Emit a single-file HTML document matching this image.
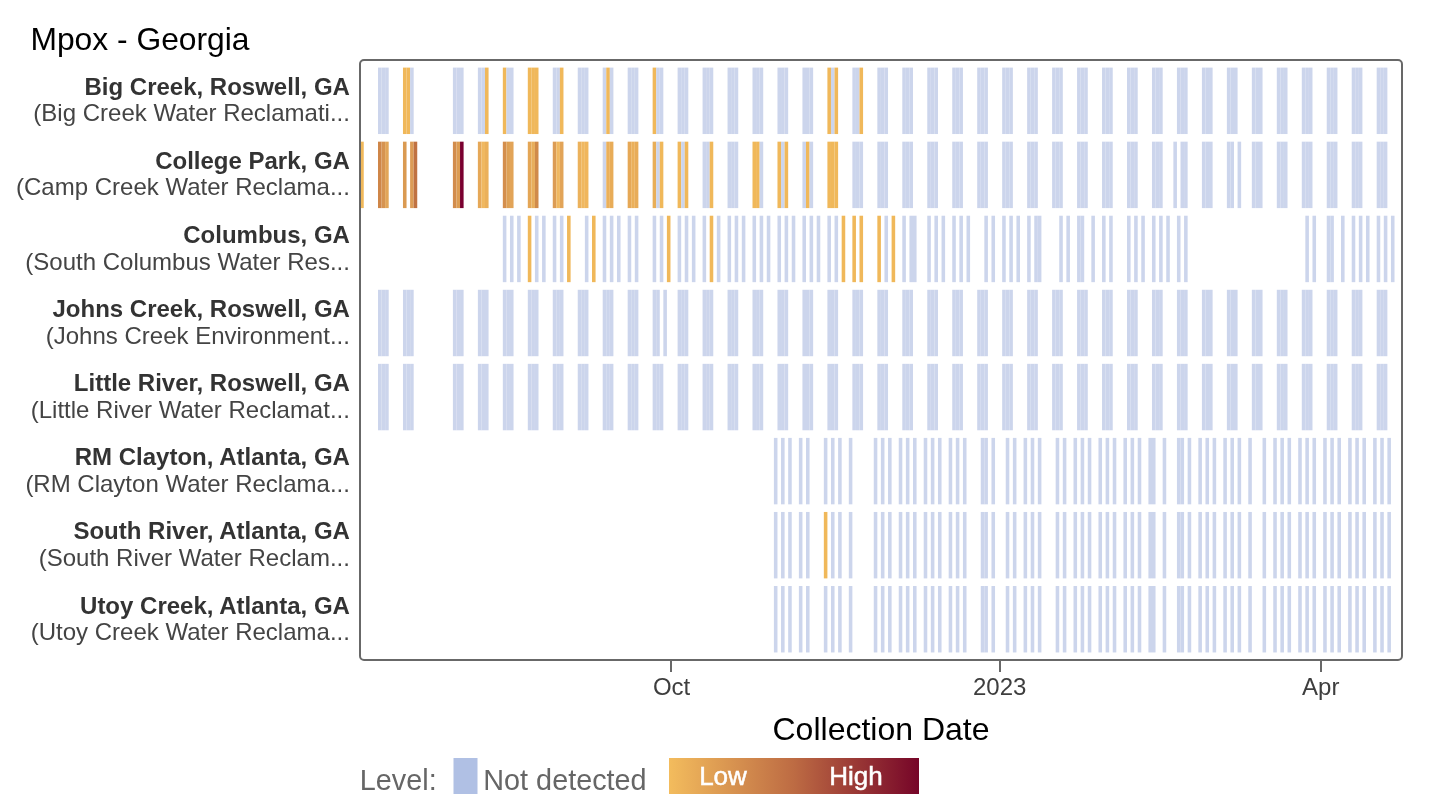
<!DOCTYPE html>
<html><head><meta charset="utf-8"><style>
html,body{margin:0;padding:0;background:#fff;}
svg{display:block;will-change:transform;font-family:"Liberation Sans",sans-serif;}
</style></head><body>
<svg width="1442" height="808" viewBox="0 0 1442 808">
<defs><clipPath id="cp"><rect x="361" y="61" width="1040" height="598"/></clipPath>
<linearGradient id="lg" x1="0" x2="1" y1="0" y2="0"><stop offset="0" stop-color="#f3bc5d"/><stop offset="0.5" stop-color="#bd6b43"/><stop offset="1" stop-color="#760528"/></linearGradient></defs>
<text x="30.4" y="49.5" font-size="31.8" fill="#000">Mpox - Georgia</text>
<g clip-path="url(#cp)">
<rect x="378.00" y="67.60" width="3.57" height="66.44" fill="#ccd5ec"/>
<rect x="381.57" y="67.60" width="3.57" height="66.44" fill="#ccd5ec"/>
<rect x="385.13" y="67.60" width="3.57" height="66.44" fill="#ccd5ec"/>
<rect x="402.97" y="67.60" width="3.57" height="66.44" fill="#f0b85a"/>
<rect x="406.53" y="67.60" width="3.57" height="66.44" fill="#f0b85a"/>
<rect x="410.10" y="67.60" width="3.57" height="66.44" fill="#ccd5ec"/>
<rect x="452.90" y="67.60" width="3.57" height="66.44" fill="#ccd5ec"/>
<rect x="456.47" y="67.60" width="3.57" height="66.44" fill="#ccd5ec"/>
<rect x="460.03" y="67.60" width="3.57" height="66.44" fill="#ccd5ec"/>
<rect x="477.87" y="67.60" width="3.57" height="66.44" fill="#ccd5ec"/>
<rect x="481.43" y="67.60" width="3.57" height="66.44" fill="#ccd5ec"/>
<rect x="485.00" y="67.60" width="3.57" height="66.44" fill="#f0b85a"/>
<rect x="502.83" y="67.60" width="3.57" height="66.44" fill="#f0b85a"/>
<rect x="506.40" y="67.60" width="3.57" height="66.44" fill="#ccd5ec"/>
<rect x="509.97" y="67.60" width="3.57" height="66.44" fill="#ccd5ec"/>
<rect x="527.80" y="67.60" width="3.57" height="66.44" fill="#f0b85a"/>
<rect x="531.37" y="67.60" width="3.57" height="66.44" fill="#f0b85a"/>
<rect x="534.93" y="67.60" width="3.57" height="66.44" fill="#f0b85a"/>
<rect x="552.77" y="67.60" width="3.57" height="66.44" fill="#ccd5ec"/>
<rect x="556.34" y="67.60" width="3.57" height="66.44" fill="#ccd5ec"/>
<rect x="559.90" y="67.60" width="3.57" height="66.44" fill="#f0b85a"/>
<rect x="577.74" y="67.60" width="3.57" height="66.44" fill="#ccd5ec"/>
<rect x="581.30" y="67.60" width="3.57" height="66.44" fill="#ccd5ec"/>
<rect x="584.87" y="67.60" width="3.57" height="66.44" fill="#ccd5ec"/>
<rect x="602.70" y="67.60" width="3.57" height="66.44" fill="#ccd5ec"/>
<rect x="606.27" y="67.60" width="3.57" height="66.44" fill="#f0b85a"/>
<rect x="609.84" y="67.60" width="3.57" height="66.44" fill="#ccd5ec"/>
<rect x="627.67" y="67.60" width="3.57" height="66.44" fill="#ccd5ec"/>
<rect x="631.24" y="67.60" width="3.57" height="66.44" fill="#ccd5ec"/>
<rect x="634.80" y="67.60" width="3.57" height="66.44" fill="#ccd5ec"/>
<rect x="652.64" y="67.60" width="3.57" height="66.44" fill="#f0b85a"/>
<rect x="656.20" y="67.60" width="3.57" height="66.44" fill="#ccd5ec"/>
<rect x="659.77" y="67.60" width="3.57" height="66.44" fill="#ccd5ec"/>
<rect x="677.60" y="67.60" width="3.57" height="66.44" fill="#ccd5ec"/>
<rect x="681.17" y="67.60" width="3.57" height="66.44" fill="#ccd5ec"/>
<rect x="684.74" y="67.60" width="3.57" height="66.44" fill="#ccd5ec"/>
<rect x="702.57" y="67.60" width="3.57" height="66.44" fill="#ccd5ec"/>
<rect x="706.14" y="67.60" width="3.57" height="66.44" fill="#ccd5ec"/>
<rect x="709.70" y="67.60" width="3.57" height="66.44" fill="#ccd5ec"/>
<rect x="727.54" y="67.60" width="3.57" height="66.44" fill="#ccd5ec"/>
<rect x="731.10" y="67.60" width="3.57" height="66.44" fill="#ccd5ec"/>
<rect x="734.67" y="67.60" width="3.57" height="66.44" fill="#ccd5ec"/>
<rect x="752.50" y="67.60" width="3.57" height="66.44" fill="#ccd5ec"/>
<rect x="756.07" y="67.60" width="3.57" height="66.44" fill="#ccd5ec"/>
<rect x="759.64" y="67.60" width="3.57" height="66.44" fill="#ccd5ec"/>
<rect x="777.47" y="67.60" width="3.57" height="66.44" fill="#ccd5ec"/>
<rect x="781.04" y="67.60" width="3.57" height="66.44" fill="#ccd5ec"/>
<rect x="784.60" y="67.60" width="3.57" height="66.44" fill="#ccd5ec"/>
<rect x="802.44" y="67.60" width="3.57" height="66.44" fill="#ccd5ec"/>
<rect x="806.00" y="67.60" width="3.57" height="66.44" fill="#ccd5ec"/>
<rect x="809.57" y="67.60" width="3.57" height="66.44" fill="#ccd5ec"/>
<rect x="827.40" y="67.60" width="3.57" height="66.44" fill="#f0b85a"/>
<rect x="830.97" y="67.60" width="3.57" height="66.44" fill="#ccd5ec"/>
<rect x="834.54" y="67.60" width="3.57" height="66.44" fill="#f0b85a"/>
<rect x="852.37" y="67.60" width="3.57" height="66.44" fill="#ccd5ec"/>
<rect x="855.94" y="67.60" width="3.57" height="66.44" fill="#ccd5ec"/>
<rect x="859.50" y="67.60" width="3.57" height="66.44" fill="#f0b85a"/>
<rect x="877.34" y="67.60" width="3.57" height="66.44" fill="#ccd5ec"/>
<rect x="880.90" y="67.60" width="3.57" height="66.44" fill="#ccd5ec"/>
<rect x="884.47" y="67.60" width="3.57" height="66.44" fill="#ccd5ec"/>
<rect x="902.30" y="67.60" width="3.57" height="66.44" fill="#ccd5ec"/>
<rect x="905.87" y="67.60" width="3.57" height="66.44" fill="#ccd5ec"/>
<rect x="909.44" y="67.60" width="3.57" height="66.44" fill="#ccd5ec"/>
<rect x="927.27" y="67.60" width="3.57" height="66.44" fill="#ccd5ec"/>
<rect x="930.84" y="67.60" width="3.57" height="66.44" fill="#ccd5ec"/>
<rect x="934.41" y="67.60" width="3.57" height="66.44" fill="#ccd5ec"/>
<rect x="952.24" y="67.60" width="3.57" height="66.44" fill="#ccd5ec"/>
<rect x="955.81" y="67.60" width="3.57" height="66.44" fill="#ccd5ec"/>
<rect x="959.37" y="67.60" width="3.57" height="66.44" fill="#ccd5ec"/>
<rect x="977.21" y="67.60" width="3.57" height="66.44" fill="#ccd5ec"/>
<rect x="980.77" y="67.60" width="3.57" height="66.44" fill="#ccd5ec"/>
<rect x="984.34" y="67.60" width="3.57" height="66.44" fill="#ccd5ec"/>
<rect x="1002.17" y="67.60" width="3.57" height="66.44" fill="#ccd5ec"/>
<rect x="1005.74" y="67.60" width="3.57" height="66.44" fill="#ccd5ec"/>
<rect x="1009.31" y="67.60" width="3.57" height="66.44" fill="#ccd5ec"/>
<rect x="1027.14" y="67.60" width="3.57" height="66.44" fill="#ccd5ec"/>
<rect x="1030.71" y="67.60" width="3.57" height="66.44" fill="#ccd5ec"/>
<rect x="1034.27" y="67.60" width="3.57" height="66.44" fill="#ccd5ec"/>
<rect x="1052.11" y="67.60" width="3.57" height="66.44" fill="#ccd5ec"/>
<rect x="1055.67" y="67.60" width="3.57" height="66.44" fill="#ccd5ec"/>
<rect x="1059.24" y="67.60" width="3.57" height="66.44" fill="#ccd5ec"/>
<rect x="1077.07" y="67.60" width="3.57" height="66.44" fill="#ccd5ec"/>
<rect x="1080.64" y="67.60" width="3.57" height="66.44" fill="#ccd5ec"/>
<rect x="1084.21" y="67.60" width="3.57" height="66.44" fill="#ccd5ec"/>
<rect x="1102.04" y="67.60" width="3.57" height="66.44" fill="#ccd5ec"/>
<rect x="1105.61" y="67.60" width="3.57" height="66.44" fill="#ccd5ec"/>
<rect x="1109.17" y="67.60" width="3.57" height="66.44" fill="#ccd5ec"/>
<rect x="1127.01" y="67.60" width="3.57" height="66.44" fill="#ccd5ec"/>
<rect x="1130.57" y="67.60" width="3.57" height="66.44" fill="#ccd5ec"/>
<rect x="1134.14" y="67.60" width="3.57" height="66.44" fill="#ccd5ec"/>
<rect x="1151.97" y="67.60" width="3.57" height="66.44" fill="#ccd5ec"/>
<rect x="1155.54" y="67.60" width="3.57" height="66.44" fill="#ccd5ec"/>
<rect x="1159.11" y="67.60" width="3.57" height="66.44" fill="#ccd5ec"/>
<rect x="1176.94" y="67.60" width="3.57" height="66.44" fill="#ccd5ec"/>
<rect x="1180.51" y="67.60" width="3.57" height="66.44" fill="#ccd5ec"/>
<rect x="1184.07" y="67.60" width="3.57" height="66.44" fill="#ccd5ec"/>
<rect x="1201.91" y="67.60" width="3.57" height="66.44" fill="#ccd5ec"/>
<rect x="1205.47" y="67.60" width="3.57" height="66.44" fill="#ccd5ec"/>
<rect x="1209.04" y="67.60" width="3.57" height="66.44" fill="#ccd5ec"/>
<rect x="1226.87" y="67.60" width="3.57" height="66.44" fill="#ccd5ec"/>
<rect x="1230.44" y="67.60" width="3.57" height="66.44" fill="#ccd5ec"/>
<rect x="1234.01" y="67.60" width="3.57" height="66.44" fill="#ccd5ec"/>
<rect x="1251.84" y="67.60" width="3.57" height="66.44" fill="#ccd5ec"/>
<rect x="1255.41" y="67.60" width="3.57" height="66.44" fill="#ccd5ec"/>
<rect x="1258.97" y="67.60" width="3.57" height="66.44" fill="#ccd5ec"/>
<rect x="1276.81" y="67.60" width="3.57" height="66.44" fill="#ccd5ec"/>
<rect x="1280.38" y="67.60" width="3.57" height="66.44" fill="#ccd5ec"/>
<rect x="1283.94" y="67.60" width="3.57" height="66.44" fill="#ccd5ec"/>
<rect x="1301.78" y="67.60" width="3.57" height="66.44" fill="#ccd5ec"/>
<rect x="1305.34" y="67.60" width="3.57" height="66.44" fill="#ccd5ec"/>
<rect x="1308.91" y="67.60" width="3.57" height="66.44" fill="#ccd5ec"/>
<rect x="1326.74" y="67.60" width="3.57" height="66.44" fill="#ccd5ec"/>
<rect x="1330.31" y="67.60" width="3.57" height="66.44" fill="#ccd5ec"/>
<rect x="1333.88" y="67.60" width="3.57" height="66.44" fill="#ccd5ec"/>
<rect x="1351.71" y="67.60" width="3.57" height="66.44" fill="#ccd5ec"/>
<rect x="1355.28" y="67.60" width="3.57" height="66.44" fill="#ccd5ec"/>
<rect x="1358.84" y="67.60" width="3.57" height="66.44" fill="#ccd5ec"/>
<rect x="1376.68" y="67.60" width="3.57" height="66.44" fill="#ccd5ec"/>
<rect x="1380.24" y="67.60" width="3.57" height="66.44" fill="#ccd5ec"/>
<rect x="1383.81" y="67.60" width="3.57" height="66.44" fill="#ccd5ec"/>
<rect x="360.17" y="141.66" width="3.57" height="66.44" fill="#f0b85a"/>
<rect x="378.00" y="141.66" width="3.57" height="66.44" fill="#cf8648"/>
<rect x="381.57" y="141.66" width="3.57" height="66.44" fill="#d69350"/>
<rect x="385.13" y="141.66" width="3.57" height="66.44" fill="#e2a558"/>
<rect x="402.97" y="141.66" width="3.57" height="66.44" fill="#da9a52"/>
<rect x="410.10" y="141.66" width="3.57" height="66.44" fill="#dc9c56"/>
<rect x="413.67" y="141.66" width="3.57" height="66.44" fill="#c07242"/>
<rect x="452.90" y="141.66" width="3.57" height="66.44" fill="#d28c4c"/>
<rect x="456.47" y="141.66" width="3.57" height="66.44" fill="#dc9c52"/>
<rect x="460.03" y="141.66" width="3.57" height="66.44" fill="#7a0030"/>
<rect x="477.87" y="141.66" width="3.57" height="66.44" fill="#e6a858"/>
<rect x="481.43" y="141.66" width="3.57" height="66.44" fill="#f0b860"/>
<rect x="485.00" y="141.66" width="3.57" height="66.44" fill="#ebb05a"/>
<rect x="502.83" y="141.66" width="3.57" height="66.44" fill="#d48e4c"/>
<rect x="506.40" y="141.66" width="3.57" height="66.44" fill="#dea054"/>
<rect x="509.97" y="141.66" width="3.57" height="66.44" fill="#e2a458"/>
<rect x="527.80" y="141.66" width="3.57" height="66.44" fill="#e4a656"/>
<rect x="531.37" y="141.66" width="3.57" height="66.44" fill="#e8ae5c"/>
<rect x="534.93" y="141.66" width="3.57" height="66.44" fill="#d08a4a"/>
<rect x="552.77" y="141.66" width="3.57" height="66.44" fill="#dc9c54"/>
<rect x="556.34" y="141.66" width="3.57" height="66.44" fill="#f0b860"/>
<rect x="559.90" y="141.66" width="3.57" height="66.44" fill="#e2a458"/>
<rect x="577.74" y="141.66" width="3.57" height="66.44" fill="#ecb25c"/>
<rect x="581.30" y="141.66" width="3.57" height="66.44" fill="#f0b860"/>
<rect x="584.87" y="141.66" width="3.57" height="66.44" fill="#f0b65c"/>
<rect x="602.70" y="141.66" width="3.57" height="66.44" fill="#ccd5ec"/>
<rect x="606.27" y="141.66" width="3.57" height="66.44" fill="#ebb05a"/>
<rect x="609.84" y="141.66" width="3.57" height="66.44" fill="#e8ac58"/>
<rect x="627.67" y="141.66" width="3.57" height="66.44" fill="#e6a856"/>
<rect x="631.24" y="141.66" width="3.57" height="66.44" fill="#ebb05a"/>
<rect x="634.80" y="141.66" width="3.57" height="66.44" fill="#e8ac58"/>
<rect x="652.64" y="141.66" width="3.57" height="66.44" fill="#e8ae58"/>
<rect x="656.20" y="141.66" width="3.57" height="66.44" fill="#ccd5ec"/>
<rect x="659.77" y="141.66" width="3.57" height="66.44" fill="#f0b85a"/>
<rect x="677.60" y="141.66" width="3.57" height="66.44" fill="#f0b85a"/>
<rect x="681.17" y="141.66" width="3.57" height="66.44" fill="#ccd5ec"/>
<rect x="684.74" y="141.66" width="3.57" height="66.44" fill="#f0b85a"/>
<rect x="702.57" y="141.66" width="3.57" height="66.44" fill="#ccd5ec"/>
<rect x="706.14" y="141.66" width="3.57" height="66.44" fill="#ccd5ec"/>
<rect x="709.70" y="141.66" width="3.57" height="66.44" fill="#f0b85a"/>
<rect x="727.54" y="141.66" width="3.57" height="66.44" fill="#ccd5ec"/>
<rect x="731.10" y="141.66" width="3.57" height="66.44" fill="#ccd5ec"/>
<rect x="734.67" y="141.66" width="3.57" height="66.44" fill="#ccd5ec"/>
<rect x="752.50" y="141.66" width="3.57" height="66.44" fill="#f0b85a"/>
<rect x="756.07" y="141.66" width="3.57" height="66.44" fill="#f0b85a"/>
<rect x="759.64" y="141.66" width="3.57" height="66.44" fill="#ccd5ec"/>
<rect x="777.47" y="141.66" width="3.57" height="66.44" fill="#f0b85a"/>
<rect x="781.04" y="141.66" width="3.57" height="66.44" fill="#ccd5ec"/>
<rect x="784.60" y="141.66" width="3.57" height="66.44" fill="#f0b85a"/>
<rect x="802.44" y="141.66" width="3.57" height="66.44" fill="#ccd5ec"/>
<rect x="806.00" y="141.66" width="3.57" height="66.44" fill="#f0b85a"/>
<rect x="809.57" y="141.66" width="3.57" height="66.44" fill="#ccd5ec"/>
<rect x="827.40" y="141.66" width="3.57" height="66.44" fill="#f0b85a"/>
<rect x="830.97" y="141.66" width="3.57" height="66.44" fill="#f0b85a"/>
<rect x="834.54" y="141.66" width="3.57" height="66.44" fill="#f0b85a"/>
<rect x="852.37" y="141.66" width="3.57" height="66.44" fill="#ccd5ec"/>
<rect x="855.94" y="141.66" width="3.57" height="66.44" fill="#ccd5ec"/>
<rect x="859.50" y="141.66" width="3.57" height="66.44" fill="#ccd5ec"/>
<rect x="877.34" y="141.66" width="3.57" height="66.44" fill="#ccd5ec"/>
<rect x="880.90" y="141.66" width="3.57" height="66.44" fill="#ccd5ec"/>
<rect x="884.47" y="141.66" width="3.57" height="66.44" fill="#ccd5ec"/>
<rect x="902.30" y="141.66" width="3.57" height="66.44" fill="#ccd5ec"/>
<rect x="905.87" y="141.66" width="3.57" height="66.44" fill="#ccd5ec"/>
<rect x="909.44" y="141.66" width="3.57" height="66.44" fill="#ccd5ec"/>
<rect x="927.27" y="141.66" width="3.57" height="66.44" fill="#ccd5ec"/>
<rect x="930.84" y="141.66" width="3.57" height="66.44" fill="#ccd5ec"/>
<rect x="934.41" y="141.66" width="3.57" height="66.44" fill="#ccd5ec"/>
<rect x="952.24" y="141.66" width="3.57" height="66.44" fill="#ccd5ec"/>
<rect x="955.81" y="141.66" width="3.57" height="66.44" fill="#ccd5ec"/>
<rect x="959.37" y="141.66" width="3.57" height="66.44" fill="#ccd5ec"/>
<rect x="977.21" y="141.66" width="3.57" height="66.44" fill="#ccd5ec"/>
<rect x="980.77" y="141.66" width="3.57" height="66.44" fill="#ccd5ec"/>
<rect x="984.34" y="141.66" width="3.57" height="66.44" fill="#ccd5ec"/>
<rect x="1002.17" y="141.66" width="3.57" height="66.44" fill="#ccd5ec"/>
<rect x="1005.74" y="141.66" width="3.57" height="66.44" fill="#ccd5ec"/>
<rect x="1009.31" y="141.66" width="3.57" height="66.44" fill="#ccd5ec"/>
<rect x="1027.14" y="141.66" width="3.57" height="66.44" fill="#ccd5ec"/>
<rect x="1030.71" y="141.66" width="3.57" height="66.44" fill="#ccd5ec"/>
<rect x="1034.27" y="141.66" width="3.57" height="66.44" fill="#ccd5ec"/>
<rect x="1052.11" y="141.66" width="3.57" height="66.44" fill="#ccd5ec"/>
<rect x="1055.67" y="141.66" width="3.57" height="66.44" fill="#ccd5ec"/>
<rect x="1059.24" y="141.66" width="3.57" height="66.44" fill="#ccd5ec"/>
<rect x="1077.07" y="141.66" width="3.57" height="66.44" fill="#ccd5ec"/>
<rect x="1080.64" y="141.66" width="3.57" height="66.44" fill="#ccd5ec"/>
<rect x="1084.21" y="141.66" width="3.57" height="66.44" fill="#ccd5ec"/>
<rect x="1102.04" y="141.66" width="3.57" height="66.44" fill="#ccd5ec"/>
<rect x="1105.61" y="141.66" width="3.57" height="66.44" fill="#ccd5ec"/>
<rect x="1109.17" y="141.66" width="3.57" height="66.44" fill="#ccd5ec"/>
<rect x="1127.01" y="141.66" width="3.57" height="66.44" fill="#ccd5ec"/>
<rect x="1130.57" y="141.66" width="3.57" height="66.44" fill="#ccd5ec"/>
<rect x="1134.14" y="141.66" width="3.57" height="66.44" fill="#ccd5ec"/>
<rect x="1151.97" y="141.66" width="3.57" height="66.44" fill="#ccd5ec"/>
<rect x="1155.54" y="141.66" width="3.57" height="66.44" fill="#ccd5ec"/>
<rect x="1159.11" y="141.66" width="3.57" height="66.44" fill="#ccd5ec"/>
<rect x="1173.37" y="141.66" width="3.57" height="66.44" fill="#ccd5ec"/>
<rect x="1180.51" y="141.66" width="3.57" height="66.44" fill="#ccd5ec"/>
<rect x="1184.07" y="141.66" width="3.57" height="66.44" fill="#ccd5ec"/>
<rect x="1201.91" y="141.66" width="3.57" height="66.44" fill="#ccd5ec"/>
<rect x="1205.47" y="141.66" width="3.57" height="66.44" fill="#ccd5ec"/>
<rect x="1209.04" y="141.66" width="3.57" height="66.44" fill="#ccd5ec"/>
<rect x="1226.87" y="141.66" width="3.57" height="66.44" fill="#ccd5ec"/>
<rect x="1230.44" y="141.66" width="3.57" height="66.44" fill="#ccd5ec"/>
<rect x="1237.57" y="141.66" width="3.57" height="66.44" fill="#ccd5ec"/>
<rect x="1251.84" y="141.66" width="3.57" height="66.44" fill="#ccd5ec"/>
<rect x="1255.41" y="141.66" width="3.57" height="66.44" fill="#ccd5ec"/>
<rect x="1258.97" y="141.66" width="3.57" height="66.44" fill="#ccd5ec"/>
<rect x="1276.81" y="141.66" width="3.57" height="66.44" fill="#ccd5ec"/>
<rect x="1280.38" y="141.66" width="3.57" height="66.44" fill="#ccd5ec"/>
<rect x="1283.94" y="141.66" width="3.57" height="66.44" fill="#ccd5ec"/>
<rect x="1301.78" y="141.66" width="3.57" height="66.44" fill="#ccd5ec"/>
<rect x="1305.34" y="141.66" width="3.57" height="66.44" fill="#ccd5ec"/>
<rect x="1308.91" y="141.66" width="3.57" height="66.44" fill="#ccd5ec"/>
<rect x="1326.74" y="141.66" width="3.57" height="66.44" fill="#ccd5ec"/>
<rect x="1330.31" y="141.66" width="3.57" height="66.44" fill="#ccd5ec"/>
<rect x="1333.88" y="141.66" width="3.57" height="66.44" fill="#ccd5ec"/>
<rect x="1351.71" y="141.66" width="3.57" height="66.44" fill="#ccd5ec"/>
<rect x="1355.28" y="141.66" width="3.57" height="66.44" fill="#ccd5ec"/>
<rect x="1358.84" y="141.66" width="3.57" height="66.44" fill="#ccd5ec"/>
<rect x="1376.68" y="141.66" width="3.57" height="66.44" fill="#ccd5ec"/>
<rect x="1380.24" y="141.66" width="3.57" height="66.44" fill="#ccd5ec"/>
<rect x="1383.81" y="141.66" width="3.57" height="66.44" fill="#ccd5ec"/>
<rect x="502.83" y="215.72" width="3.57" height="66.44" fill="#ccd5ec"/>
<rect x="509.97" y="215.72" width="3.57" height="66.44" fill="#ccd5ec"/>
<rect x="517.10" y="215.72" width="3.57" height="66.44" fill="#ccd5ec"/>
<rect x="527.80" y="215.72" width="3.57" height="66.44" fill="#f0b85a"/>
<rect x="534.93" y="215.72" width="3.57" height="66.44" fill="#ccd5ec"/>
<rect x="542.07" y="215.72" width="3.57" height="66.44" fill="#ccd5ec"/>
<rect x="552.77" y="215.72" width="3.57" height="66.44" fill="#ccd5ec"/>
<rect x="559.90" y="215.72" width="3.57" height="66.44" fill="#ccd5ec"/>
<rect x="567.04" y="215.72" width="3.57" height="66.44" fill="#f0b85a"/>
<rect x="584.87" y="215.72" width="3.57" height="66.44" fill="#ccd5ec"/>
<rect x="592.00" y="215.72" width="3.57" height="66.44" fill="#f0b85a"/>
<rect x="602.70" y="215.72" width="3.57" height="66.44" fill="#ccd5ec"/>
<rect x="609.84" y="215.72" width="3.57" height="66.44" fill="#ccd5ec"/>
<rect x="616.97" y="215.72" width="3.57" height="66.44" fill="#ccd5ec"/>
<rect x="627.67" y="215.72" width="3.57" height="66.44" fill="#ccd5ec"/>
<rect x="634.80" y="215.72" width="3.57" height="66.44" fill="#ccd5ec"/>
<rect x="652.64" y="215.72" width="3.57" height="66.44" fill="#ccd5ec"/>
<rect x="659.77" y="215.72" width="3.57" height="66.44" fill="#ccd5ec"/>
<rect x="666.90" y="215.72" width="3.57" height="66.44" fill="#f0b85a"/>
<rect x="677.60" y="215.72" width="3.57" height="66.44" fill="#ccd5ec"/>
<rect x="684.74" y="215.72" width="3.57" height="66.44" fill="#ccd5ec"/>
<rect x="691.87" y="215.72" width="3.57" height="66.44" fill="#ccd5ec"/>
<rect x="702.57" y="215.72" width="3.57" height="66.44" fill="#ccd5ec"/>
<rect x="709.70" y="215.72" width="3.57" height="66.44" fill="#f0b85a"/>
<rect x="716.84" y="215.72" width="3.57" height="66.44" fill="#ccd5ec"/>
<rect x="727.54" y="215.72" width="3.57" height="66.44" fill="#ccd5ec"/>
<rect x="734.67" y="215.72" width="3.57" height="66.44" fill="#ccd5ec"/>
<rect x="741.80" y="215.72" width="3.57" height="66.44" fill="#ccd5ec"/>
<rect x="752.50" y="215.72" width="3.57" height="66.44" fill="#ccd5ec"/>
<rect x="759.64" y="215.72" width="3.57" height="66.44" fill="#ccd5ec"/>
<rect x="766.77" y="215.72" width="3.57" height="66.44" fill="#ccd5ec"/>
<rect x="777.47" y="215.72" width="3.57" height="66.44" fill="#ccd5ec"/>
<rect x="784.60" y="215.72" width="3.57" height="66.44" fill="#ccd5ec"/>
<rect x="791.74" y="215.72" width="3.57" height="66.44" fill="#ccd5ec"/>
<rect x="802.44" y="215.72" width="3.57" height="66.44" fill="#ccd5ec"/>
<rect x="809.57" y="215.72" width="3.57" height="66.44" fill="#ccd5ec"/>
<rect x="816.70" y="215.72" width="3.57" height="66.44" fill="#ccd5ec"/>
<rect x="827.40" y="215.72" width="3.57" height="66.44" fill="#ccd5ec"/>
<rect x="834.54" y="215.72" width="3.57" height="66.44" fill="#ccd5ec"/>
<rect x="841.67" y="215.72" width="3.57" height="66.44" fill="#f0b85a"/>
<rect x="852.37" y="215.72" width="3.57" height="66.44" fill="#f0b85a"/>
<rect x="859.50" y="215.72" width="3.57" height="66.44" fill="#f0b85a"/>
<rect x="877.34" y="215.72" width="3.57" height="66.44" fill="#f0b85a"/>
<rect x="884.47" y="215.72" width="3.57" height="66.44" fill="#ccd5ec"/>
<rect x="891.60" y="215.72" width="3.57" height="66.44" fill="#f0b85a"/>
<rect x="902.30" y="215.72" width="3.57" height="66.44" fill="#ccd5ec"/>
<rect x="909.44" y="215.72" width="3.57" height="66.44" fill="#ccd5ec"/>
<rect x="913.00" y="215.72" width="3.57" height="66.44" fill="#ccd5ec"/>
<rect x="927.27" y="215.72" width="3.57" height="66.44" fill="#ccd5ec"/>
<rect x="934.41" y="215.72" width="3.57" height="66.44" fill="#ccd5ec"/>
<rect x="941.54" y="215.72" width="3.57" height="66.44" fill="#ccd5ec"/>
<rect x="952.24" y="215.72" width="3.57" height="66.44" fill="#ccd5ec"/>
<rect x="959.37" y="215.72" width="3.57" height="66.44" fill="#ccd5ec"/>
<rect x="966.51" y="215.72" width="3.57" height="66.44" fill="#ccd5ec"/>
<rect x="984.34" y="215.72" width="3.57" height="66.44" fill="#ccd5ec"/>
<rect x="991.47" y="215.72" width="3.57" height="66.44" fill="#ccd5ec"/>
<rect x="1002.17" y="215.72" width="3.57" height="66.44" fill="#ccd5ec"/>
<rect x="1009.31" y="215.72" width="3.57" height="66.44" fill="#ccd5ec"/>
<rect x="1016.44" y="215.72" width="3.57" height="66.44" fill="#ccd5ec"/>
<rect x="1027.14" y="215.72" width="3.57" height="66.44" fill="#ccd5ec"/>
<rect x="1034.27" y="215.72" width="3.57" height="66.44" fill="#ccd5ec"/>
<rect x="1037.84" y="215.72" width="3.57" height="66.44" fill="#ccd5ec"/>
<rect x="1059.24" y="215.72" width="3.57" height="66.44" fill="#ccd5ec"/>
<rect x="1066.37" y="215.72" width="3.57" height="66.44" fill="#ccd5ec"/>
<rect x="1077.07" y="215.72" width="3.57" height="66.44" fill="#ccd5ec"/>
<rect x="1080.64" y="215.72" width="3.57" height="66.44" fill="#ccd5ec"/>
<rect x="1091.34" y="215.72" width="3.57" height="66.44" fill="#ccd5ec"/>
<rect x="1102.04" y="215.72" width="3.57" height="66.44" fill="#ccd5ec"/>
<rect x="1109.17" y="215.72" width="3.57" height="66.44" fill="#ccd5ec"/>
<rect x="1127.01" y="215.72" width="3.57" height="66.44" fill="#ccd5ec"/>
<rect x="1134.14" y="215.72" width="3.57" height="66.44" fill="#ccd5ec"/>
<rect x="1141.27" y="215.72" width="3.57" height="66.44" fill="#ccd5ec"/>
<rect x="1151.97" y="215.72" width="3.57" height="66.44" fill="#ccd5ec"/>
<rect x="1159.11" y="215.72" width="3.57" height="66.44" fill="#ccd5ec"/>
<rect x="1166.24" y="215.72" width="3.57" height="66.44" fill="#ccd5ec"/>
<rect x="1176.94" y="215.72" width="3.57" height="66.44" fill="#ccd5ec"/>
<rect x="1184.07" y="215.72" width="3.57" height="66.44" fill="#ccd5ec"/>
<rect x="1305.34" y="215.72" width="3.57" height="66.44" fill="#ccd5ec"/>
<rect x="1312.48" y="215.72" width="3.57" height="66.44" fill="#ccd5ec"/>
<rect x="1326.74" y="215.72" width="3.57" height="66.44" fill="#ccd5ec"/>
<rect x="1330.31" y="215.72" width="3.57" height="66.44" fill="#ccd5ec"/>
<rect x="1341.01" y="215.72" width="3.57" height="66.44" fill="#ccd5ec"/>
<rect x="1351.71" y="215.72" width="3.57" height="66.44" fill="#ccd5ec"/>
<rect x="1358.84" y="215.72" width="3.57" height="66.44" fill="#ccd5ec"/>
<rect x="1365.98" y="215.72" width="3.57" height="66.44" fill="#ccd5ec"/>
<rect x="1376.68" y="215.72" width="3.57" height="66.44" fill="#ccd5ec"/>
<rect x="1383.81" y="215.72" width="3.57" height="66.44" fill="#ccd5ec"/>
<rect x="1390.94" y="215.72" width="3.57" height="66.44" fill="#ccd5ec"/>
<rect x="378.00" y="289.78" width="3.57" height="66.44" fill="#ccd5ec"/>
<rect x="381.57" y="289.78" width="3.57" height="66.44" fill="#ccd5ec"/>
<rect x="385.13" y="289.78" width="3.57" height="66.44" fill="#ccd5ec"/>
<rect x="402.97" y="289.78" width="3.57" height="66.44" fill="#ccd5ec"/>
<rect x="406.53" y="289.78" width="3.57" height="66.44" fill="#ccd5ec"/>
<rect x="410.10" y="289.78" width="3.57" height="66.44" fill="#ccd5ec"/>
<rect x="452.90" y="289.78" width="3.57" height="66.44" fill="#ccd5ec"/>
<rect x="456.47" y="289.78" width="3.57" height="66.44" fill="#ccd5ec"/>
<rect x="460.03" y="289.78" width="3.57" height="66.44" fill="#ccd5ec"/>
<rect x="477.87" y="289.78" width="3.57" height="66.44" fill="#ccd5ec"/>
<rect x="481.43" y="289.78" width="3.57" height="66.44" fill="#ccd5ec"/>
<rect x="485.00" y="289.78" width="3.57" height="66.44" fill="#ccd5ec"/>
<rect x="502.83" y="289.78" width="3.57" height="66.44" fill="#ccd5ec"/>
<rect x="506.40" y="289.78" width="3.57" height="66.44" fill="#ccd5ec"/>
<rect x="509.97" y="289.78" width="3.57" height="66.44" fill="#ccd5ec"/>
<rect x="527.80" y="289.78" width="3.57" height="66.44" fill="#ccd5ec"/>
<rect x="531.37" y="289.78" width="3.57" height="66.44" fill="#ccd5ec"/>
<rect x="534.93" y="289.78" width="3.57" height="66.44" fill="#ccd5ec"/>
<rect x="552.77" y="289.78" width="3.57" height="66.44" fill="#ccd5ec"/>
<rect x="556.34" y="289.78" width="3.57" height="66.44" fill="#ccd5ec"/>
<rect x="559.90" y="289.78" width="3.57" height="66.44" fill="#ccd5ec"/>
<rect x="577.74" y="289.78" width="3.57" height="66.44" fill="#ccd5ec"/>
<rect x="581.30" y="289.78" width="3.57" height="66.44" fill="#ccd5ec"/>
<rect x="584.87" y="289.78" width="3.57" height="66.44" fill="#ccd5ec"/>
<rect x="602.70" y="289.78" width="3.57" height="66.44" fill="#ccd5ec"/>
<rect x="606.27" y="289.78" width="3.57" height="66.44" fill="#ccd5ec"/>
<rect x="609.84" y="289.78" width="3.57" height="66.44" fill="#ccd5ec"/>
<rect x="627.67" y="289.78" width="3.57" height="66.44" fill="#ccd5ec"/>
<rect x="631.24" y="289.78" width="3.57" height="66.44" fill="#ccd5ec"/>
<rect x="634.80" y="289.78" width="3.57" height="66.44" fill="#ccd5ec"/>
<rect x="652.64" y="289.78" width="3.57" height="66.44" fill="#ccd5ec"/>
<rect x="656.20" y="289.78" width="3.57" height="66.44" fill="#ccd5ec"/>
<rect x="663.34" y="289.78" width="3.57" height="66.44" fill="#ccd5ec"/>
<rect x="677.60" y="289.78" width="3.57" height="66.44" fill="#ccd5ec"/>
<rect x="681.17" y="289.78" width="3.57" height="66.44" fill="#ccd5ec"/>
<rect x="684.74" y="289.78" width="3.57" height="66.44" fill="#ccd5ec"/>
<rect x="702.57" y="289.78" width="3.57" height="66.44" fill="#ccd5ec"/>
<rect x="706.14" y="289.78" width="3.57" height="66.44" fill="#ccd5ec"/>
<rect x="709.70" y="289.78" width="3.57" height="66.44" fill="#ccd5ec"/>
<rect x="727.54" y="289.78" width="3.57" height="66.44" fill="#ccd5ec"/>
<rect x="731.10" y="289.78" width="3.57" height="66.44" fill="#ccd5ec"/>
<rect x="734.67" y="289.78" width="3.57" height="66.44" fill="#ccd5ec"/>
<rect x="752.50" y="289.78" width="3.57" height="66.44" fill="#ccd5ec"/>
<rect x="756.07" y="289.78" width="3.57" height="66.44" fill="#ccd5ec"/>
<rect x="759.64" y="289.78" width="3.57" height="66.44" fill="#ccd5ec"/>
<rect x="777.47" y="289.78" width="3.57" height="66.44" fill="#ccd5ec"/>
<rect x="781.04" y="289.78" width="3.57" height="66.44" fill="#ccd5ec"/>
<rect x="784.60" y="289.78" width="3.57" height="66.44" fill="#ccd5ec"/>
<rect x="802.44" y="289.78" width="3.57" height="66.44" fill="#ccd5ec"/>
<rect x="806.00" y="289.78" width="3.57" height="66.44" fill="#ccd5ec"/>
<rect x="809.57" y="289.78" width="3.57" height="66.44" fill="#ccd5ec"/>
<rect x="827.40" y="289.78" width="3.57" height="66.44" fill="#ccd5ec"/>
<rect x="830.97" y="289.78" width="3.57" height="66.44" fill="#ccd5ec"/>
<rect x="834.54" y="289.78" width="3.57" height="66.44" fill="#ccd5ec"/>
<rect x="852.37" y="289.78" width="3.57" height="66.44" fill="#ccd5ec"/>
<rect x="855.94" y="289.78" width="3.57" height="66.44" fill="#ccd5ec"/>
<rect x="859.50" y="289.78" width="3.57" height="66.44" fill="#ccd5ec"/>
<rect x="877.34" y="289.78" width="3.57" height="66.44" fill="#ccd5ec"/>
<rect x="880.90" y="289.78" width="3.57" height="66.44" fill="#ccd5ec"/>
<rect x="884.47" y="289.78" width="3.57" height="66.44" fill="#ccd5ec"/>
<rect x="902.30" y="289.78" width="3.57" height="66.44" fill="#ccd5ec"/>
<rect x="905.87" y="289.78" width="3.57" height="66.44" fill="#ccd5ec"/>
<rect x="909.44" y="289.78" width="3.57" height="66.44" fill="#ccd5ec"/>
<rect x="927.27" y="289.78" width="3.57" height="66.44" fill="#ccd5ec"/>
<rect x="930.84" y="289.78" width="3.57" height="66.44" fill="#ccd5ec"/>
<rect x="934.41" y="289.78" width="3.57" height="66.44" fill="#ccd5ec"/>
<rect x="952.24" y="289.78" width="3.57" height="66.44" fill="#ccd5ec"/>
<rect x="955.81" y="289.78" width="3.57" height="66.44" fill="#ccd5ec"/>
<rect x="959.37" y="289.78" width="3.57" height="66.44" fill="#ccd5ec"/>
<rect x="977.21" y="289.78" width="3.57" height="66.44" fill="#ccd5ec"/>
<rect x="980.77" y="289.78" width="3.57" height="66.44" fill="#ccd5ec"/>
<rect x="984.34" y="289.78" width="3.57" height="66.44" fill="#ccd5ec"/>
<rect x="1002.17" y="289.78" width="3.57" height="66.44" fill="#ccd5ec"/>
<rect x="1005.74" y="289.78" width="3.57" height="66.44" fill="#ccd5ec"/>
<rect x="1009.31" y="289.78" width="3.57" height="66.44" fill="#ccd5ec"/>
<rect x="1027.14" y="289.78" width="3.57" height="66.44" fill="#ccd5ec"/>
<rect x="1030.71" y="289.78" width="3.57" height="66.44" fill="#ccd5ec"/>
<rect x="1034.27" y="289.78" width="3.57" height="66.44" fill="#ccd5ec"/>
<rect x="1052.11" y="289.78" width="3.57" height="66.44" fill="#ccd5ec"/>
<rect x="1055.67" y="289.78" width="3.57" height="66.44" fill="#ccd5ec"/>
<rect x="1059.24" y="289.78" width="3.57" height="66.44" fill="#ccd5ec"/>
<rect x="1077.07" y="289.78" width="3.57" height="66.44" fill="#ccd5ec"/>
<rect x="1080.64" y="289.78" width="3.57" height="66.44" fill="#ccd5ec"/>
<rect x="1084.21" y="289.78" width="3.57" height="66.44" fill="#ccd5ec"/>
<rect x="1102.04" y="289.78" width="3.57" height="66.44" fill="#ccd5ec"/>
<rect x="1105.61" y="289.78" width="3.57" height="66.44" fill="#ccd5ec"/>
<rect x="1109.17" y="289.78" width="3.57" height="66.44" fill="#ccd5ec"/>
<rect x="1127.01" y="289.78" width="3.57" height="66.44" fill="#ccd5ec"/>
<rect x="1130.57" y="289.78" width="3.57" height="66.44" fill="#ccd5ec"/>
<rect x="1134.14" y="289.78" width="3.57" height="66.44" fill="#ccd5ec"/>
<rect x="1151.97" y="289.78" width="3.57" height="66.44" fill="#ccd5ec"/>
<rect x="1155.54" y="289.78" width="3.57" height="66.44" fill="#ccd5ec"/>
<rect x="1159.11" y="289.78" width="3.57" height="66.44" fill="#ccd5ec"/>
<rect x="1176.94" y="289.78" width="3.57" height="66.44" fill="#ccd5ec"/>
<rect x="1180.51" y="289.78" width="3.57" height="66.44" fill="#ccd5ec"/>
<rect x="1184.07" y="289.78" width="3.57" height="66.44" fill="#ccd5ec"/>
<rect x="1201.91" y="289.78" width="3.57" height="66.44" fill="#ccd5ec"/>
<rect x="1205.47" y="289.78" width="3.57" height="66.44" fill="#ccd5ec"/>
<rect x="1209.04" y="289.78" width="3.57" height="66.44" fill="#ccd5ec"/>
<rect x="1226.87" y="289.78" width="3.57" height="66.44" fill="#ccd5ec"/>
<rect x="1230.44" y="289.78" width="3.57" height="66.44" fill="#ccd5ec"/>
<rect x="1234.01" y="289.78" width="3.57" height="66.44" fill="#ccd5ec"/>
<rect x="1251.84" y="289.78" width="3.57" height="66.44" fill="#ccd5ec"/>
<rect x="1255.41" y="289.78" width="3.57" height="66.44" fill="#ccd5ec"/>
<rect x="1258.97" y="289.78" width="3.57" height="66.44" fill="#ccd5ec"/>
<rect x="1276.81" y="289.78" width="3.57" height="66.44" fill="#ccd5ec"/>
<rect x="1280.38" y="289.78" width="3.57" height="66.44" fill="#ccd5ec"/>
<rect x="1283.94" y="289.78" width="3.57" height="66.44" fill="#ccd5ec"/>
<rect x="1301.78" y="289.78" width="3.57" height="66.44" fill="#ccd5ec"/>
<rect x="1305.34" y="289.78" width="3.57" height="66.44" fill="#ccd5ec"/>
<rect x="1308.91" y="289.78" width="3.57" height="66.44" fill="#ccd5ec"/>
<rect x="1326.74" y="289.78" width="3.57" height="66.44" fill="#ccd5ec"/>
<rect x="1330.31" y="289.78" width="3.57" height="66.44" fill="#ccd5ec"/>
<rect x="1333.88" y="289.78" width="3.57" height="66.44" fill="#ccd5ec"/>
<rect x="1351.71" y="289.78" width="3.57" height="66.44" fill="#ccd5ec"/>
<rect x="1355.28" y="289.78" width="3.57" height="66.44" fill="#ccd5ec"/>
<rect x="1358.84" y="289.78" width="3.57" height="66.44" fill="#ccd5ec"/>
<rect x="1376.68" y="289.78" width="3.57" height="66.44" fill="#ccd5ec"/>
<rect x="1380.24" y="289.78" width="3.57" height="66.44" fill="#ccd5ec"/>
<rect x="1383.81" y="289.78" width="3.57" height="66.44" fill="#ccd5ec"/>
<rect x="378.00" y="363.84" width="3.57" height="66.44" fill="#ccd5ec"/>
<rect x="381.57" y="363.84" width="3.57" height="66.44" fill="#ccd5ec"/>
<rect x="385.13" y="363.84" width="3.57" height="66.44" fill="#ccd5ec"/>
<rect x="402.97" y="363.84" width="3.57" height="66.44" fill="#ccd5ec"/>
<rect x="406.53" y="363.84" width="3.57" height="66.44" fill="#ccd5ec"/>
<rect x="410.10" y="363.84" width="3.57" height="66.44" fill="#ccd5ec"/>
<rect x="452.90" y="363.84" width="3.57" height="66.44" fill="#ccd5ec"/>
<rect x="456.47" y="363.84" width="3.57" height="66.44" fill="#ccd5ec"/>
<rect x="460.03" y="363.84" width="3.57" height="66.44" fill="#ccd5ec"/>
<rect x="477.87" y="363.84" width="3.57" height="66.44" fill="#ccd5ec"/>
<rect x="481.43" y="363.84" width="3.57" height="66.44" fill="#ccd5ec"/>
<rect x="485.00" y="363.84" width="3.57" height="66.44" fill="#ccd5ec"/>
<rect x="502.83" y="363.84" width="3.57" height="66.44" fill="#ccd5ec"/>
<rect x="506.40" y="363.84" width="3.57" height="66.44" fill="#ccd5ec"/>
<rect x="509.97" y="363.84" width="3.57" height="66.44" fill="#ccd5ec"/>
<rect x="527.80" y="363.84" width="3.57" height="66.44" fill="#ccd5ec"/>
<rect x="531.37" y="363.84" width="3.57" height="66.44" fill="#ccd5ec"/>
<rect x="534.93" y="363.84" width="3.57" height="66.44" fill="#ccd5ec"/>
<rect x="552.77" y="363.84" width="3.57" height="66.44" fill="#ccd5ec"/>
<rect x="556.34" y="363.84" width="3.57" height="66.44" fill="#ccd5ec"/>
<rect x="559.90" y="363.84" width="3.57" height="66.44" fill="#ccd5ec"/>
<rect x="577.74" y="363.84" width="3.57" height="66.44" fill="#ccd5ec"/>
<rect x="581.30" y="363.84" width="3.57" height="66.44" fill="#ccd5ec"/>
<rect x="584.87" y="363.84" width="3.57" height="66.44" fill="#ccd5ec"/>
<rect x="602.70" y="363.84" width="3.57" height="66.44" fill="#ccd5ec"/>
<rect x="606.27" y="363.84" width="3.57" height="66.44" fill="#ccd5ec"/>
<rect x="609.84" y="363.84" width="3.57" height="66.44" fill="#ccd5ec"/>
<rect x="627.67" y="363.84" width="3.57" height="66.44" fill="#ccd5ec"/>
<rect x="631.24" y="363.84" width="3.57" height="66.44" fill="#ccd5ec"/>
<rect x="634.80" y="363.84" width="3.57" height="66.44" fill="#ccd5ec"/>
<rect x="652.64" y="363.84" width="3.57" height="66.44" fill="#ccd5ec"/>
<rect x="656.20" y="363.84" width="3.57" height="66.44" fill="#ccd5ec"/>
<rect x="659.77" y="363.84" width="3.57" height="66.44" fill="#ccd5ec"/>
<rect x="677.60" y="363.84" width="3.57" height="66.44" fill="#ccd5ec"/>
<rect x="681.17" y="363.84" width="3.57" height="66.44" fill="#ccd5ec"/>
<rect x="684.74" y="363.84" width="3.57" height="66.44" fill="#ccd5ec"/>
<rect x="702.57" y="363.84" width="3.57" height="66.44" fill="#ccd5ec"/>
<rect x="706.14" y="363.84" width="3.57" height="66.44" fill="#ccd5ec"/>
<rect x="709.70" y="363.84" width="3.57" height="66.44" fill="#ccd5ec"/>
<rect x="727.54" y="363.84" width="3.57" height="66.44" fill="#ccd5ec"/>
<rect x="731.10" y="363.84" width="3.57" height="66.44" fill="#ccd5ec"/>
<rect x="734.67" y="363.84" width="3.57" height="66.44" fill="#ccd5ec"/>
<rect x="752.50" y="363.84" width="3.57" height="66.44" fill="#ccd5ec"/>
<rect x="756.07" y="363.84" width="3.57" height="66.44" fill="#ccd5ec"/>
<rect x="759.64" y="363.84" width="3.57" height="66.44" fill="#ccd5ec"/>
<rect x="777.47" y="363.84" width="3.57" height="66.44" fill="#ccd5ec"/>
<rect x="781.04" y="363.84" width="3.57" height="66.44" fill="#ccd5ec"/>
<rect x="784.60" y="363.84" width="3.57" height="66.44" fill="#ccd5ec"/>
<rect x="802.44" y="363.84" width="3.57" height="66.44" fill="#ccd5ec"/>
<rect x="806.00" y="363.84" width="3.57" height="66.44" fill="#ccd5ec"/>
<rect x="809.57" y="363.84" width="3.57" height="66.44" fill="#ccd5ec"/>
<rect x="827.40" y="363.84" width="3.57" height="66.44" fill="#ccd5ec"/>
<rect x="830.97" y="363.84" width="3.57" height="66.44" fill="#ccd5ec"/>
<rect x="834.54" y="363.84" width="3.57" height="66.44" fill="#ccd5ec"/>
<rect x="852.37" y="363.84" width="3.57" height="66.44" fill="#ccd5ec"/>
<rect x="855.94" y="363.84" width="3.57" height="66.44" fill="#ccd5ec"/>
<rect x="859.50" y="363.84" width="3.57" height="66.44" fill="#ccd5ec"/>
<rect x="877.34" y="363.84" width="3.57" height="66.44" fill="#ccd5ec"/>
<rect x="880.90" y="363.84" width="3.57" height="66.44" fill="#ccd5ec"/>
<rect x="884.47" y="363.84" width="3.57" height="66.44" fill="#ccd5ec"/>
<rect x="902.30" y="363.84" width="3.57" height="66.44" fill="#ccd5ec"/>
<rect x="905.87" y="363.84" width="3.57" height="66.44" fill="#ccd5ec"/>
<rect x="909.44" y="363.84" width="3.57" height="66.44" fill="#ccd5ec"/>
<rect x="927.27" y="363.84" width="3.57" height="66.44" fill="#ccd5ec"/>
<rect x="930.84" y="363.84" width="3.57" height="66.44" fill="#ccd5ec"/>
<rect x="934.41" y="363.84" width="3.57" height="66.44" fill="#ccd5ec"/>
<rect x="952.24" y="363.84" width="3.57" height="66.44" fill="#ccd5ec"/>
<rect x="955.81" y="363.84" width="3.57" height="66.44" fill="#ccd5ec"/>
<rect x="959.37" y="363.84" width="3.57" height="66.44" fill="#ccd5ec"/>
<rect x="977.21" y="363.84" width="3.57" height="66.44" fill="#ccd5ec"/>
<rect x="980.77" y="363.84" width="3.57" height="66.44" fill="#ccd5ec"/>
<rect x="984.34" y="363.84" width="3.57" height="66.44" fill="#ccd5ec"/>
<rect x="1002.17" y="363.84" width="3.57" height="66.44" fill="#ccd5ec"/>
<rect x="1005.74" y="363.84" width="3.57" height="66.44" fill="#ccd5ec"/>
<rect x="1009.31" y="363.84" width="3.57" height="66.44" fill="#ccd5ec"/>
<rect x="1027.14" y="363.84" width="3.57" height="66.44" fill="#ccd5ec"/>
<rect x="1030.71" y="363.84" width="3.57" height="66.44" fill="#ccd5ec"/>
<rect x="1034.27" y="363.84" width="3.57" height="66.44" fill="#ccd5ec"/>
<rect x="1052.11" y="363.84" width="3.57" height="66.44" fill="#ccd5ec"/>
<rect x="1055.67" y="363.84" width="3.57" height="66.44" fill="#ccd5ec"/>
<rect x="1059.24" y="363.84" width="3.57" height="66.44" fill="#ccd5ec"/>
<rect x="1077.07" y="363.84" width="3.57" height="66.44" fill="#ccd5ec"/>
<rect x="1080.64" y="363.84" width="3.57" height="66.44" fill="#ccd5ec"/>
<rect x="1084.21" y="363.84" width="3.57" height="66.44" fill="#ccd5ec"/>
<rect x="1102.04" y="363.84" width="3.57" height="66.44" fill="#ccd5ec"/>
<rect x="1105.61" y="363.84" width="3.57" height="66.44" fill="#ccd5ec"/>
<rect x="1109.17" y="363.84" width="3.57" height="66.44" fill="#ccd5ec"/>
<rect x="1127.01" y="363.84" width="3.57" height="66.44" fill="#ccd5ec"/>
<rect x="1130.57" y="363.84" width="3.57" height="66.44" fill="#ccd5ec"/>
<rect x="1134.14" y="363.84" width="3.57" height="66.44" fill="#ccd5ec"/>
<rect x="1151.97" y="363.84" width="3.57" height="66.44" fill="#ccd5ec"/>
<rect x="1155.54" y="363.84" width="3.57" height="66.44" fill="#ccd5ec"/>
<rect x="1159.11" y="363.84" width="3.57" height="66.44" fill="#ccd5ec"/>
<rect x="1176.94" y="363.84" width="3.57" height="66.44" fill="#ccd5ec"/>
<rect x="1180.51" y="363.84" width="3.57" height="66.44" fill="#ccd5ec"/>
<rect x="1184.07" y="363.84" width="3.57" height="66.44" fill="#ccd5ec"/>
<rect x="1201.91" y="363.84" width="3.57" height="66.44" fill="#ccd5ec"/>
<rect x="1205.47" y="363.84" width="3.57" height="66.44" fill="#ccd5ec"/>
<rect x="1209.04" y="363.84" width="3.57" height="66.44" fill="#ccd5ec"/>
<rect x="1226.87" y="363.84" width="3.57" height="66.44" fill="#ccd5ec"/>
<rect x="1230.44" y="363.84" width="3.57" height="66.44" fill="#ccd5ec"/>
<rect x="1234.01" y="363.84" width="3.57" height="66.44" fill="#ccd5ec"/>
<rect x="1251.84" y="363.84" width="3.57" height="66.44" fill="#ccd5ec"/>
<rect x="1255.41" y="363.84" width="3.57" height="66.44" fill="#ccd5ec"/>
<rect x="1258.97" y="363.84" width="3.57" height="66.44" fill="#ccd5ec"/>
<rect x="1276.81" y="363.84" width="3.57" height="66.44" fill="#ccd5ec"/>
<rect x="1280.38" y="363.84" width="3.57" height="66.44" fill="#ccd5ec"/>
<rect x="1283.94" y="363.84" width="3.57" height="66.44" fill="#ccd5ec"/>
<rect x="1301.78" y="363.84" width="3.57" height="66.44" fill="#ccd5ec"/>
<rect x="1305.34" y="363.84" width="3.57" height="66.44" fill="#ccd5ec"/>
<rect x="1308.91" y="363.84" width="3.57" height="66.44" fill="#ccd5ec"/>
<rect x="1326.74" y="363.84" width="3.57" height="66.44" fill="#ccd5ec"/>
<rect x="1330.31" y="363.84" width="3.57" height="66.44" fill="#ccd5ec"/>
<rect x="1333.88" y="363.84" width="3.57" height="66.44" fill="#ccd5ec"/>
<rect x="1351.71" y="363.84" width="3.57" height="66.44" fill="#ccd5ec"/>
<rect x="1355.28" y="363.84" width="3.57" height="66.44" fill="#ccd5ec"/>
<rect x="1358.84" y="363.84" width="3.57" height="66.44" fill="#ccd5ec"/>
<rect x="1376.68" y="363.84" width="3.57" height="66.44" fill="#ccd5ec"/>
<rect x="1380.24" y="363.84" width="3.57" height="66.44" fill="#ccd5ec"/>
<rect x="1383.81" y="363.84" width="3.57" height="66.44" fill="#ccd5ec"/>
<rect x="773.90" y="437.90" width="3.57" height="66.44" fill="#ccd5ec"/>
<rect x="781.04" y="437.90" width="3.57" height="66.44" fill="#ccd5ec"/>
<rect x="788.17" y="437.90" width="3.57" height="66.44" fill="#ccd5ec"/>
<rect x="798.87" y="437.90" width="3.57" height="66.44" fill="#ccd5ec"/>
<rect x="806.00" y="437.90" width="3.57" height="66.44" fill="#ccd5ec"/>
<rect x="823.84" y="437.90" width="3.57" height="66.44" fill="#ccd5ec"/>
<rect x="830.97" y="437.90" width="3.57" height="66.44" fill="#ccd5ec"/>
<rect x="838.10" y="437.90" width="3.57" height="66.44" fill="#ccd5ec"/>
<rect x="848.80" y="437.90" width="3.57" height="66.44" fill="#ccd5ec"/>
<rect x="873.77" y="437.90" width="3.57" height="66.44" fill="#ccd5ec"/>
<rect x="880.90" y="437.90" width="3.57" height="66.44" fill="#ccd5ec"/>
<rect x="888.04" y="437.90" width="3.57" height="66.44" fill="#ccd5ec"/>
<rect x="898.74" y="437.90" width="3.57" height="66.44" fill="#ccd5ec"/>
<rect x="905.87" y="437.90" width="3.57" height="66.44" fill="#ccd5ec"/>
<rect x="913.00" y="437.90" width="3.57" height="66.44" fill="#ccd5ec"/>
<rect x="923.71" y="437.90" width="3.57" height="66.44" fill="#ccd5ec"/>
<rect x="930.84" y="437.90" width="3.57" height="66.44" fill="#ccd5ec"/>
<rect x="937.97" y="437.90" width="3.57" height="66.44" fill="#ccd5ec"/>
<rect x="948.67" y="437.90" width="3.57" height="66.44" fill="#ccd5ec"/>
<rect x="955.81" y="437.90" width="3.57" height="66.44" fill="#ccd5ec"/>
<rect x="962.94" y="437.90" width="3.57" height="66.44" fill="#ccd5ec"/>
<rect x="980.77" y="437.90" width="3.57" height="66.44" fill="#ccd5ec"/>
<rect x="984.34" y="437.90" width="3.57" height="66.44" fill="#ccd5ec"/>
<rect x="991.47" y="437.90" width="3.57" height="66.44" fill="#ccd5ec"/>
<rect x="1005.74" y="437.90" width="3.57" height="66.44" fill="#ccd5ec"/>
<rect x="1012.87" y="437.90" width="3.57" height="66.44" fill="#ccd5ec"/>
<rect x="1023.57" y="437.90" width="3.57" height="66.44" fill="#ccd5ec"/>
<rect x="1030.71" y="437.90" width="3.57" height="66.44" fill="#ccd5ec"/>
<rect x="1037.84" y="437.90" width="3.57" height="66.44" fill="#ccd5ec"/>
<rect x="1055.67" y="437.90" width="3.57" height="66.44" fill="#ccd5ec"/>
<rect x="1062.81" y="437.90" width="3.57" height="66.44" fill="#ccd5ec"/>
<rect x="1073.51" y="437.90" width="3.57" height="66.44" fill="#ccd5ec"/>
<rect x="1080.64" y="437.90" width="3.57" height="66.44" fill="#ccd5ec"/>
<rect x="1087.77" y="437.90" width="3.57" height="66.44" fill="#ccd5ec"/>
<rect x="1098.47" y="437.90" width="3.57" height="66.44" fill="#ccd5ec"/>
<rect x="1105.61" y="437.90" width="3.57" height="66.44" fill="#ccd5ec"/>
<rect x="1112.74" y="437.90" width="3.57" height="66.44" fill="#ccd5ec"/>
<rect x="1123.44" y="437.90" width="3.57" height="66.44" fill="#ccd5ec"/>
<rect x="1130.57" y="437.90" width="3.57" height="66.44" fill="#ccd5ec"/>
<rect x="1137.71" y="437.90" width="3.57" height="66.44" fill="#ccd5ec"/>
<rect x="1148.41" y="437.90" width="3.57" height="66.44" fill="#ccd5ec"/>
<rect x="1151.97" y="437.90" width="3.57" height="66.44" fill="#ccd5ec"/>
<rect x="1162.67" y="437.90" width="3.57" height="66.44" fill="#ccd5ec"/>
<rect x="1176.94" y="437.90" width="3.57" height="66.44" fill="#ccd5ec"/>
<rect x="1180.51" y="437.90" width="3.57" height="66.44" fill="#ccd5ec"/>
<rect x="1187.64" y="437.90" width="3.57" height="66.44" fill="#ccd5ec"/>
<rect x="1198.34" y="437.90" width="3.57" height="66.44" fill="#ccd5ec"/>
<rect x="1205.47" y="437.90" width="3.57" height="66.44" fill="#ccd5ec"/>
<rect x="1212.61" y="437.90" width="3.57" height="66.44" fill="#ccd5ec"/>
<rect x="1223.31" y="437.90" width="3.57" height="66.44" fill="#ccd5ec"/>
<rect x="1230.44" y="437.90" width="3.57" height="66.44" fill="#ccd5ec"/>
<rect x="1237.57" y="437.90" width="3.57" height="66.44" fill="#ccd5ec"/>
<rect x="1248.27" y="437.90" width="3.57" height="66.44" fill="#ccd5ec"/>
<rect x="1262.54" y="437.90" width="3.57" height="66.44" fill="#ccd5ec"/>
<rect x="1273.24" y="437.90" width="3.57" height="66.44" fill="#ccd5ec"/>
<rect x="1280.38" y="437.90" width="3.57" height="66.44" fill="#ccd5ec"/>
<rect x="1287.51" y="437.90" width="3.57" height="66.44" fill="#ccd5ec"/>
<rect x="1298.21" y="437.90" width="3.57" height="66.44" fill="#ccd5ec"/>
<rect x="1305.34" y="437.90" width="3.57" height="66.44" fill="#ccd5ec"/>
<rect x="1312.48" y="437.90" width="3.57" height="66.44" fill="#ccd5ec"/>
<rect x="1323.18" y="437.90" width="3.57" height="66.44" fill="#ccd5ec"/>
<rect x="1330.31" y="437.90" width="3.57" height="66.44" fill="#ccd5ec"/>
<rect x="1337.44" y="437.90" width="3.57" height="66.44" fill="#ccd5ec"/>
<rect x="1348.14" y="437.90" width="3.57" height="66.44" fill="#ccd5ec"/>
<rect x="1355.28" y="437.90" width="3.57" height="66.44" fill="#ccd5ec"/>
<rect x="1362.41" y="437.90" width="3.57" height="66.44" fill="#ccd5ec"/>
<rect x="1373.11" y="437.90" width="3.57" height="66.44" fill="#ccd5ec"/>
<rect x="1380.24" y="437.90" width="3.57" height="66.44" fill="#ccd5ec"/>
<rect x="1387.38" y="437.90" width="3.57" height="66.44" fill="#ccd5ec"/>
<rect x="773.90" y="511.96" width="3.57" height="66.44" fill="#ccd5ec"/>
<rect x="781.04" y="511.96" width="3.57" height="66.44" fill="#ccd5ec"/>
<rect x="788.17" y="511.96" width="3.57" height="66.44" fill="#ccd5ec"/>
<rect x="798.87" y="511.96" width="3.57" height="66.44" fill="#ccd5ec"/>
<rect x="806.00" y="511.96" width="3.57" height="66.44" fill="#ccd5ec"/>
<rect x="823.84" y="511.96" width="3.57" height="66.44" fill="#f0b85a"/>
<rect x="830.97" y="511.96" width="3.57" height="66.44" fill="#ccd5ec"/>
<rect x="838.10" y="511.96" width="3.57" height="66.44" fill="#ccd5ec"/>
<rect x="848.80" y="511.96" width="3.57" height="66.44" fill="#ccd5ec"/>
<rect x="873.77" y="511.96" width="3.57" height="66.44" fill="#ccd5ec"/>
<rect x="880.90" y="511.96" width="3.57" height="66.44" fill="#ccd5ec"/>
<rect x="888.04" y="511.96" width="3.57" height="66.44" fill="#ccd5ec"/>
<rect x="898.74" y="511.96" width="3.57" height="66.44" fill="#ccd5ec"/>
<rect x="905.87" y="511.96" width="3.57" height="66.44" fill="#ccd5ec"/>
<rect x="913.00" y="511.96" width="3.57" height="66.44" fill="#ccd5ec"/>
<rect x="923.71" y="511.96" width="3.57" height="66.44" fill="#ccd5ec"/>
<rect x="930.84" y="511.96" width="3.57" height="66.44" fill="#ccd5ec"/>
<rect x="937.97" y="511.96" width="3.57" height="66.44" fill="#ccd5ec"/>
<rect x="948.67" y="511.96" width="3.57" height="66.44" fill="#ccd5ec"/>
<rect x="955.81" y="511.96" width="3.57" height="66.44" fill="#ccd5ec"/>
<rect x="962.94" y="511.96" width="3.57" height="66.44" fill="#ccd5ec"/>
<rect x="980.77" y="511.96" width="3.57" height="66.44" fill="#ccd5ec"/>
<rect x="984.34" y="511.96" width="3.57" height="66.44" fill="#ccd5ec"/>
<rect x="991.47" y="511.96" width="3.57" height="66.44" fill="#ccd5ec"/>
<rect x="1005.74" y="511.96" width="3.57" height="66.44" fill="#ccd5ec"/>
<rect x="1012.87" y="511.96" width="3.57" height="66.44" fill="#ccd5ec"/>
<rect x="1023.57" y="511.96" width="3.57" height="66.44" fill="#ccd5ec"/>
<rect x="1030.71" y="511.96" width="3.57" height="66.44" fill="#ccd5ec"/>
<rect x="1037.84" y="511.96" width="3.57" height="66.44" fill="#ccd5ec"/>
<rect x="1055.67" y="511.96" width="3.57" height="66.44" fill="#ccd5ec"/>
<rect x="1062.81" y="511.96" width="3.57" height="66.44" fill="#ccd5ec"/>
<rect x="1073.51" y="511.96" width="3.57" height="66.44" fill="#ccd5ec"/>
<rect x="1080.64" y="511.96" width="3.57" height="66.44" fill="#ccd5ec"/>
<rect x="1087.77" y="511.96" width="3.57" height="66.44" fill="#ccd5ec"/>
<rect x="1098.47" y="511.96" width="3.57" height="66.44" fill="#ccd5ec"/>
<rect x="1105.61" y="511.96" width="3.57" height="66.44" fill="#ccd5ec"/>
<rect x="1112.74" y="511.96" width="3.57" height="66.44" fill="#ccd5ec"/>
<rect x="1123.44" y="511.96" width="3.57" height="66.44" fill="#ccd5ec"/>
<rect x="1130.57" y="511.96" width="3.57" height="66.44" fill="#ccd5ec"/>
<rect x="1137.71" y="511.96" width="3.57" height="66.44" fill="#ccd5ec"/>
<rect x="1148.41" y="511.96" width="3.57" height="66.44" fill="#ccd5ec"/>
<rect x="1151.97" y="511.96" width="3.57" height="66.44" fill="#ccd5ec"/>
<rect x="1162.67" y="511.96" width="3.57" height="66.44" fill="#ccd5ec"/>
<rect x="1176.94" y="511.96" width="3.57" height="66.44" fill="#ccd5ec"/>
<rect x="1180.51" y="511.96" width="3.57" height="66.44" fill="#ccd5ec"/>
<rect x="1187.64" y="511.96" width="3.57" height="66.44" fill="#ccd5ec"/>
<rect x="1198.34" y="511.96" width="3.57" height="66.44" fill="#ccd5ec"/>
<rect x="1205.47" y="511.96" width="3.57" height="66.44" fill="#ccd5ec"/>
<rect x="1212.61" y="511.96" width="3.57" height="66.44" fill="#ccd5ec"/>
<rect x="1223.31" y="511.96" width="3.57" height="66.44" fill="#ccd5ec"/>
<rect x="1230.44" y="511.96" width="3.57" height="66.44" fill="#ccd5ec"/>
<rect x="1237.57" y="511.96" width="3.57" height="66.44" fill="#ccd5ec"/>
<rect x="1248.27" y="511.96" width="3.57" height="66.44" fill="#ccd5ec"/>
<rect x="1262.54" y="511.96" width="3.57" height="66.44" fill="#ccd5ec"/>
<rect x="1273.24" y="511.96" width="3.57" height="66.44" fill="#ccd5ec"/>
<rect x="1280.38" y="511.96" width="3.57" height="66.44" fill="#ccd5ec"/>
<rect x="1287.51" y="511.96" width="3.57" height="66.44" fill="#ccd5ec"/>
<rect x="1298.21" y="511.96" width="3.57" height="66.44" fill="#ccd5ec"/>
<rect x="1305.34" y="511.96" width="3.57" height="66.44" fill="#ccd5ec"/>
<rect x="1312.48" y="511.96" width="3.57" height="66.44" fill="#ccd5ec"/>
<rect x="1323.18" y="511.96" width="3.57" height="66.44" fill="#ccd5ec"/>
<rect x="1330.31" y="511.96" width="3.57" height="66.44" fill="#ccd5ec"/>
<rect x="1337.44" y="511.96" width="3.57" height="66.44" fill="#ccd5ec"/>
<rect x="1348.14" y="511.96" width="3.57" height="66.44" fill="#ccd5ec"/>
<rect x="1355.28" y="511.96" width="3.57" height="66.44" fill="#ccd5ec"/>
<rect x="1362.41" y="511.96" width="3.57" height="66.44" fill="#ccd5ec"/>
<rect x="1373.11" y="511.96" width="3.57" height="66.44" fill="#ccd5ec"/>
<rect x="1380.24" y="511.96" width="3.57" height="66.44" fill="#ccd5ec"/>
<rect x="1387.38" y="511.96" width="3.57" height="66.44" fill="#ccd5ec"/>
<rect x="773.90" y="586.02" width="3.57" height="66.44" fill="#ccd5ec"/>
<rect x="781.04" y="586.02" width="3.57" height="66.44" fill="#ccd5ec"/>
<rect x="788.17" y="586.02" width="3.57" height="66.44" fill="#ccd5ec"/>
<rect x="798.87" y="586.02" width="3.57" height="66.44" fill="#ccd5ec"/>
<rect x="806.00" y="586.02" width="3.57" height="66.44" fill="#ccd5ec"/>
<rect x="823.84" y="586.02" width="3.57" height="66.44" fill="#ccd5ec"/>
<rect x="830.97" y="586.02" width="3.57" height="66.44" fill="#ccd5ec"/>
<rect x="838.10" y="586.02" width="3.57" height="66.44" fill="#ccd5ec"/>
<rect x="848.80" y="586.02" width="3.57" height="66.44" fill="#ccd5ec"/>
<rect x="873.77" y="586.02" width="3.57" height="66.44" fill="#ccd5ec"/>
<rect x="880.90" y="586.02" width="3.57" height="66.44" fill="#ccd5ec"/>
<rect x="888.04" y="586.02" width="3.57" height="66.44" fill="#ccd5ec"/>
<rect x="898.74" y="586.02" width="3.57" height="66.44" fill="#ccd5ec"/>
<rect x="905.87" y="586.02" width="3.57" height="66.44" fill="#ccd5ec"/>
<rect x="913.00" y="586.02" width="3.57" height="66.44" fill="#ccd5ec"/>
<rect x="923.71" y="586.02" width="3.57" height="66.44" fill="#ccd5ec"/>
<rect x="930.84" y="586.02" width="3.57" height="66.44" fill="#ccd5ec"/>
<rect x="937.97" y="586.02" width="3.57" height="66.44" fill="#ccd5ec"/>
<rect x="948.67" y="586.02" width="3.57" height="66.44" fill="#ccd5ec"/>
<rect x="955.81" y="586.02" width="3.57" height="66.44" fill="#ccd5ec"/>
<rect x="962.94" y="586.02" width="3.57" height="66.44" fill="#ccd5ec"/>
<rect x="980.77" y="586.02" width="3.57" height="66.44" fill="#ccd5ec"/>
<rect x="984.34" y="586.02" width="3.57" height="66.44" fill="#ccd5ec"/>
<rect x="991.47" y="586.02" width="3.57" height="66.44" fill="#ccd5ec"/>
<rect x="1005.74" y="586.02" width="3.57" height="66.44" fill="#ccd5ec"/>
<rect x="1012.87" y="586.02" width="3.57" height="66.44" fill="#ccd5ec"/>
<rect x="1023.57" y="586.02" width="3.57" height="66.44" fill="#ccd5ec"/>
<rect x="1030.71" y="586.02" width="3.57" height="66.44" fill="#ccd5ec"/>
<rect x="1037.84" y="586.02" width="3.57" height="66.44" fill="#ccd5ec"/>
<rect x="1055.67" y="586.02" width="3.57" height="66.44" fill="#ccd5ec"/>
<rect x="1062.81" y="586.02" width="3.57" height="66.44" fill="#ccd5ec"/>
<rect x="1073.51" y="586.02" width="3.57" height="66.44" fill="#ccd5ec"/>
<rect x="1080.64" y="586.02" width="3.57" height="66.44" fill="#ccd5ec"/>
<rect x="1087.77" y="586.02" width="3.57" height="66.44" fill="#ccd5ec"/>
<rect x="1098.47" y="586.02" width="3.57" height="66.44" fill="#ccd5ec"/>
<rect x="1105.61" y="586.02" width="3.57" height="66.44" fill="#ccd5ec"/>
<rect x="1112.74" y="586.02" width="3.57" height="66.44" fill="#ccd5ec"/>
<rect x="1123.44" y="586.02" width="3.57" height="66.44" fill="#ccd5ec"/>
<rect x="1130.57" y="586.02" width="3.57" height="66.44" fill="#ccd5ec"/>
<rect x="1137.71" y="586.02" width="3.57" height="66.44" fill="#ccd5ec"/>
<rect x="1148.41" y="586.02" width="3.57" height="66.44" fill="#ccd5ec"/>
<rect x="1151.97" y="586.02" width="3.57" height="66.44" fill="#ccd5ec"/>
<rect x="1162.67" y="586.02" width="3.57" height="66.44" fill="#ccd5ec"/>
<rect x="1176.94" y="586.02" width="3.57" height="66.44" fill="#ccd5ec"/>
<rect x="1180.51" y="586.02" width="3.57" height="66.44" fill="#ccd5ec"/>
<rect x="1187.64" y="586.02" width="3.57" height="66.44" fill="#ccd5ec"/>
<rect x="1198.34" y="586.02" width="3.57" height="66.44" fill="#ccd5ec"/>
<rect x="1205.47" y="586.02" width="3.57" height="66.44" fill="#ccd5ec"/>
<rect x="1212.61" y="586.02" width="3.57" height="66.44" fill="#ccd5ec"/>
<rect x="1223.31" y="586.02" width="3.57" height="66.44" fill="#ccd5ec"/>
<rect x="1230.44" y="586.02" width="3.57" height="66.44" fill="#ccd5ec"/>
<rect x="1237.57" y="586.02" width="3.57" height="66.44" fill="#ccd5ec"/>
<rect x="1248.27" y="586.02" width="3.57" height="66.44" fill="#ccd5ec"/>
<rect x="1262.54" y="586.02" width="3.57" height="66.44" fill="#ccd5ec"/>
<rect x="1273.24" y="586.02" width="3.57" height="66.44" fill="#ccd5ec"/>
<rect x="1280.38" y="586.02" width="3.57" height="66.44" fill="#ccd5ec"/>
<rect x="1287.51" y="586.02" width="3.57" height="66.44" fill="#ccd5ec"/>
<rect x="1298.21" y="586.02" width="3.57" height="66.44" fill="#ccd5ec"/>
<rect x="1305.34" y="586.02" width="3.57" height="66.44" fill="#ccd5ec"/>
<rect x="1312.48" y="586.02" width="3.57" height="66.44" fill="#ccd5ec"/>
<rect x="1323.18" y="586.02" width="3.57" height="66.44" fill="#ccd5ec"/>
<rect x="1330.31" y="586.02" width="3.57" height="66.44" fill="#ccd5ec"/>
<rect x="1337.44" y="586.02" width="3.57" height="66.44" fill="#ccd5ec"/>
<rect x="1348.14" y="586.02" width="3.57" height="66.44" fill="#ccd5ec"/>
<rect x="1355.28" y="586.02" width="3.57" height="66.44" fill="#ccd5ec"/>
<rect x="1362.41" y="586.02" width="3.57" height="66.44" fill="#ccd5ec"/>
<rect x="1373.11" y="586.02" width="3.57" height="66.44" fill="#ccd5ec"/>
<rect x="1380.24" y="586.02" width="3.57" height="66.44" fill="#ccd5ec"/>
<rect x="1387.38" y="586.02" width="3.57" height="66.44" fill="#ccd5ec"/>
</g>
<rect x="360" y="60" width="1042" height="600" rx="4" ry="4" fill="none" stroke="#686868" stroke-width="2"/>
<g stroke="#686868" stroke-width="2"><line x1="671" y1="660" x2="671" y2="672"/><line x1="1000" y1="660" x2="1000" y2="672"/><line x1="1321" y1="660" x2="1321" y2="672"/></g>
<g font-size="24" fill="#3e3e3e" text-anchor="middle"><text x="671.6" y="695">Oct</text><text x="999.7" y="695">2023</text><text x="1320.8" y="695">Apr</text></g>
<text x="881" y="740" font-size="32" fill="#000" text-anchor="middle">Collection Date</text>
<text x="349.9" y="95" text-anchor="end" font-weight="bold" font-size="24" fill="#333">Big Creek, Roswell, GA</text>
<text x="349.9" y="121" text-anchor="end" font-size="24" fill="#444">(Big Creek Water Reclamati...</text>
<text x="349.9" y="169" text-anchor="end" font-weight="bold" font-size="24" fill="#333">College Park, GA</text>
<text x="349.9" y="195" text-anchor="end" font-size="24" fill="#444">(Camp Creek Water Reclama...</text>
<text x="349.9" y="243" text-anchor="end" font-weight="bold" font-size="24" fill="#333">Columbus, GA</text>
<text x="349.9" y="270" text-anchor="end" font-size="24" fill="#444">(South Columbus Water Res...</text>
<text x="349.9" y="317" text-anchor="end" font-weight="bold" font-size="24" fill="#333">Johns Creek, Roswell, GA</text>
<text x="349.9" y="344" text-anchor="end" font-size="24" fill="#444">(Johns Creek Environment...</text>
<text x="349.9" y="391" text-anchor="end" font-weight="bold" font-size="24" fill="#333">Little River, Roswell, GA</text>
<text x="349.9" y="418" text-anchor="end" font-size="24" fill="#444">(Little River Water Reclamat...</text>
<text x="349.9" y="465" text-anchor="end" font-weight="bold" font-size="24" fill="#333">RM Clayton, Atlanta, GA</text>
<text x="349.9" y="492" text-anchor="end" font-size="24" fill="#444">(RM Clayton Water Reclama...</text>
<text x="349.9" y="539" text-anchor="end" font-weight="bold" font-size="24" fill="#333">South River, Atlanta, GA</text>
<text x="349.9" y="566" text-anchor="end" font-size="24" fill="#444">(South River Water Reclam...</text>
<text x="349.9" y="614" text-anchor="end" font-weight="bold" font-size="24" fill="#333">Utoy Creek, Atlanta, GA</text>
<text x="349.9" y="640" text-anchor="end" font-size="24" fill="#444">(Utoy Creek Water Reclama...</text>
<text x="359.8" y="790" font-size="28.8" fill="#666">Level:</text>
<rect x="453.5" y="758" width="24" height="36" fill="#b0c0e4"/>
<text x="483.3" y="790" font-size="28.8" fill="#666">Not detected</text>
<rect x="669" y="758" width="250" height="36" fill="url(#lg)"/>
<text x="723" y="785.2" font-size="26" fill="#fff" text-anchor="middle" stroke="#fff" stroke-width="0.5">Low</text>
<text x="856" y="785.2" font-size="26" fill="#fff" text-anchor="middle" stroke="#fff" stroke-width="0.5">High</text>
</svg>
</body></html>
